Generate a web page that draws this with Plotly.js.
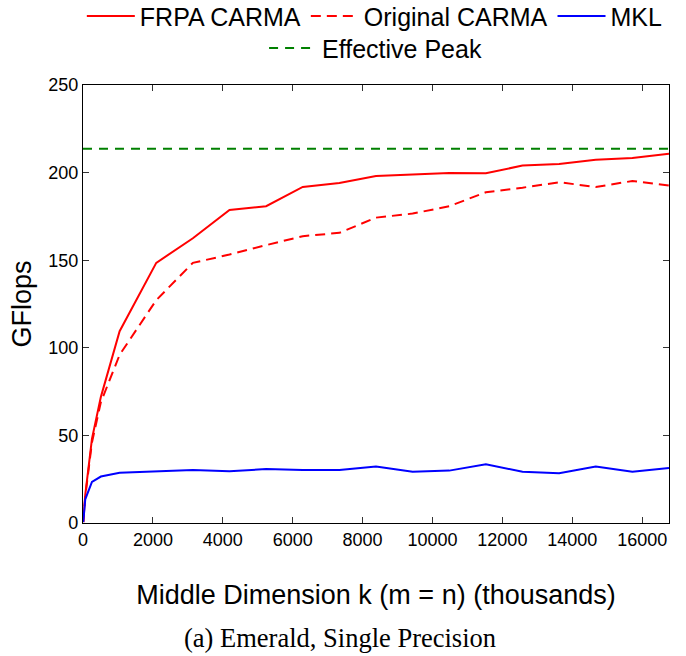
<!DOCTYPE html>
<html>
<head>
<meta charset="utf-8">
<script src="https://cdn.plot.ly/plotly-3.0.1.min.js"></script>
<style>
  html, body { margin: 0; padding: 0; background: #ffffff; }
  #chart { width: 686px; height: 656px; }
</style>
</head>
<body>
<div id="chart"></div>
<script>
// Middle dimension k (thousands), shared by all series
const kValues = [8, 64, 256, 512, 1048, 2096, 3144, 4192, 5240, 6288, 7336, 8384,
                 9432, 10480, 11528, 12576, 13624, 14672, 15720, 16768];

// Throughput in GFlops
const frpaCarma = [0.5, 16, 48, 72, 109.5, 148.5, 162.5, 178.7, 180.8, 191.8, 194.1, 198.1,
                   198.9, 199.8, 199.6, 204.0, 204.9, 207.4, 208.3, 210.8];
const originalCarma = [0.5, 15, 46, 69, 96, 127.2, 148.5, 153.2, 158.6, 163.7, 165.6, 174.3,
                       176.6, 180.8, 188.8, 191.4, 194.5, 191.8, 195.2, 192.6];
const mkl = [0.5, 13.5, 23.5, 26.5, 28.7, 29.5, 30.3, 29.5, 30.8, 30.3, 30.3, 32.2,
             29.3, 29.9, 33.5, 29.3, 28.4, 32.2, 29.3, 31.4];
const effectivePeak = 213.6;

const xRange = [0, 16768];
const yRange = [0, 250];

const seriesNames = ['FRPA CARMA', 'Original CARMA', 'MKL', 'Effective Peak'];
const xTitle = 'Middle Dimension k (m = n) (thousands)';
const yTitle = 'GFlops';
const caption = '(a) Emerald, Single Precision';

const sans = 'Liberation Sans, Arial, Helvetica, sans-serif';

const traces = [
  {
    x: kValues, y: frpaCarma, name: seriesNames[0], mode: 'lines',
    line: { color: '#ff0000', width: 2 }, legend: 'legend'
  },
  {
    x: kValues, y: originalCarma, name: seriesNames[1], mode: 'lines',
    line: { color: '#ff0000', width: 2, dash: '10px,6px' }, legend: 'legend'
  },
  {
    x: kValues, y: mkl, name: seriesNames[2], mode: 'lines',
    line: { color: '#0000ff', width: 2 }, legend: 'legend'
  },
  {
    x: xRange, y: [effectivePeak, effectivePeak], name: seriesNames[3], mode: 'lines',
    line: { color: '#008000', width: 2, dash: '9px,7px' }, legend: 'legend2'
  }
];

const axisCommon = {
  showline: true, linecolor: '#000000', linewidth: 1.2,
  mirror: 'ticks', ticks: 'inside', ticklen: 6, tickwidth: 1, tickcolor: '#333333',
  showgrid: false, zeroline: false,
  tickformat: 'd', separatethousands: false,
  tickfont: { family: sans, size: 18, color: '#000000' }
};

const layout = {
  width: 686, height: 656,
  margin: { l: 83, r: 17, t: 85, b: 133, autoexpand: false },
  paper_bgcolor: '#ffffff', plot_bgcolor: '#ffffff',
  showlegend: true,
  xaxis: Object.assign({}, axisCommon, {
    range: xRange, tick0: 0, dtick: 2000,
    title: { text: xTitle, font: { family: sans, size: 27, color: '#000000' }, standoff: 36 }
  }),
  yaxis: Object.assign({}, axisCommon, {
    range: yRange, tick0: 0, dtick: 50,
    title: { text: yTitle, font: { family: sans, size: 27, color: '#000000' }, standoff: 8 }
  }),
  legend: {
    orientation: 'h', x: -0.002, xanchor: 'left', y: 1.157, yanchor: 'middle',
    font: { family: sans, size: 25, color: '#000000' },
    itemwidth: 48, bgcolor: 'rgba(0,0,0,0)', borderwidth: 0
  },
  legend2: {
    orientation: 'h', x: 0.309, xanchor: 'left', y: 1.084, yanchor: 'middle',
    font: { family: sans, size: 25, color: '#000000' },
    itemwidth: 48, bgcolor: 'rgba(0,0,0,0)', borderwidth: 0
  },
  annotations: [
    {
      text: caption, xref: 'paper', yref: 'paper', x: 0.438, y: -0.2626,
      xanchor: 'center', yanchor: 'middle', showarrow: false,
      font: { family: 'Liberation Serif, DejaVu Serif, serif', size: 26.5, color: '#000000' }
    }
  ]
};

Plotly.newPlot('chart', traces, layout, { displayModeBar: false, staticPlot: true });
</script>
</body>
</html>
